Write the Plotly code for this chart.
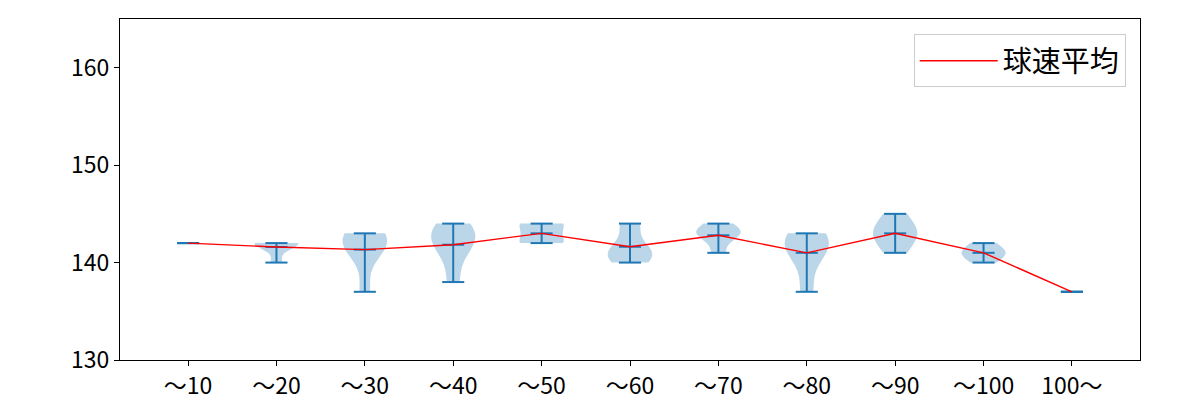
import numpy as np
import plotly.graph_objects as go

labels = ["～10", "～20", "～30", "～40", "～50", "～60", "～70", "～80", "～90", "～100", "100～"]
v_10 = [142]
v_20 = [140, 142, 142, 142, 142]
v_30 = [137, 141, 142, 142, 143, 143]
v_40 = [138, 141, 142, 143, 143, 144]
v_50 = [142, 142, 144, 144]
v_60 = [140, 140, 141, 141, 141, 142, 144, 144]
v_70 = [141, 143, 143, 143, 144]
v_80 = [137, 141, 142, 142, 143]
v_90 = [141, 142, 143, 143, 144, 145]
v_100 = [140, 141, 141, 142]
v_over = [137]
groups = [v_10, v_20, v_30, v_40, v_50, v_60, v_70, v_80, v_90, v_100, v_over]
legend_name = "球速平均"

BLUE = "#1f77b4"
FONT = "Noto Sans CJK JP"
positions = list(range(1, len(groups) + 1))

fig = go.Figure()

# violin bodies (KDE, Scott bandwidth like matplotlib)
for pos, vals in zip(positions, groups):
    arr = np.array(vals, dtype=float)
    if len(arr) < 2 or arr.std() == 0:
        continue
    bw = arr.std(ddof=1) * len(arr) ** (-0.2)
    fig.add_trace(go.Violin(
        x=[pos] * len(arr), y=arr, width=0.5, spanmode="hard", bandwidth=bw,
        points=False, box_visible=False, meanline_visible=False,
        fillcolor="rgba(31,119,180,0.3)", line=dict(color="rgba(31,119,180,0)", width=0),
        showlegend=False, hoverinfo="skip", scalemode="width",
    ))

# extrema caps, stems and mean bars
cw = 0.125
xs, ys = [], []
for pos, vals in zip(positions, groups):
    arr = np.array(vals, dtype=float)
    lo, hi, mu = arr.min(), arr.max(), arr.mean()
    for yv in (lo, hi, mu):
        xs += [pos - cw, pos + cw, None]
        ys += [yv, yv, None]
    xs += [pos, pos, None]
    ys += [lo, hi, None]
fig.add_trace(go.Scatter(x=xs, y=ys, mode="lines", line=dict(color=BLUE, width=2),
                         showlegend=False, hoverinfo="skip"))

means = [float(np.mean(v)) for v in groups]
fig.add_trace(go.Scatter(x=positions, y=means, mode="lines", name=legend_name,
                         line=dict(color="red", width=1.4)))

fig.update_layout(
    width=1200, height=400,
    margin=dict(l=120, r=60, t=19, b=40),
    paper_bgcolor="white", plot_bgcolor="white",
    font=dict(family=FONT, size=23, color="black"),
    violinmode="overlay",
    legend=dict(x=0.986, xanchor="right", y=0.955, yanchor="top",
                bgcolor="white", bordercolor="#cccccc", borderwidth=1,
                itemwidth=78, font=dict(family=FONT, size=29)),
    showlegend=True,
)
fig.update_xaxes(range=[0.23, 11.77], tickmode="array", tickvals=positions, ticktext=labels,
                 showline=True, linecolor="black", linewidth=1, mirror=True, automargin=False,
                 ticks="outside", ticklen=5, tickcolor="black", showgrid=False, zeroline=False)
fig.update_yaxes(range=[130, 165], tickmode="array", tickvals=[130, 140, 150, 160],
                 showline=True, linecolor="black", linewidth=1, mirror=True, automargin=False,
                 ticks="outside", ticklen=5, tickcolor="black", showgrid=False, zeroline=False)

fig.write_html("out.html")
